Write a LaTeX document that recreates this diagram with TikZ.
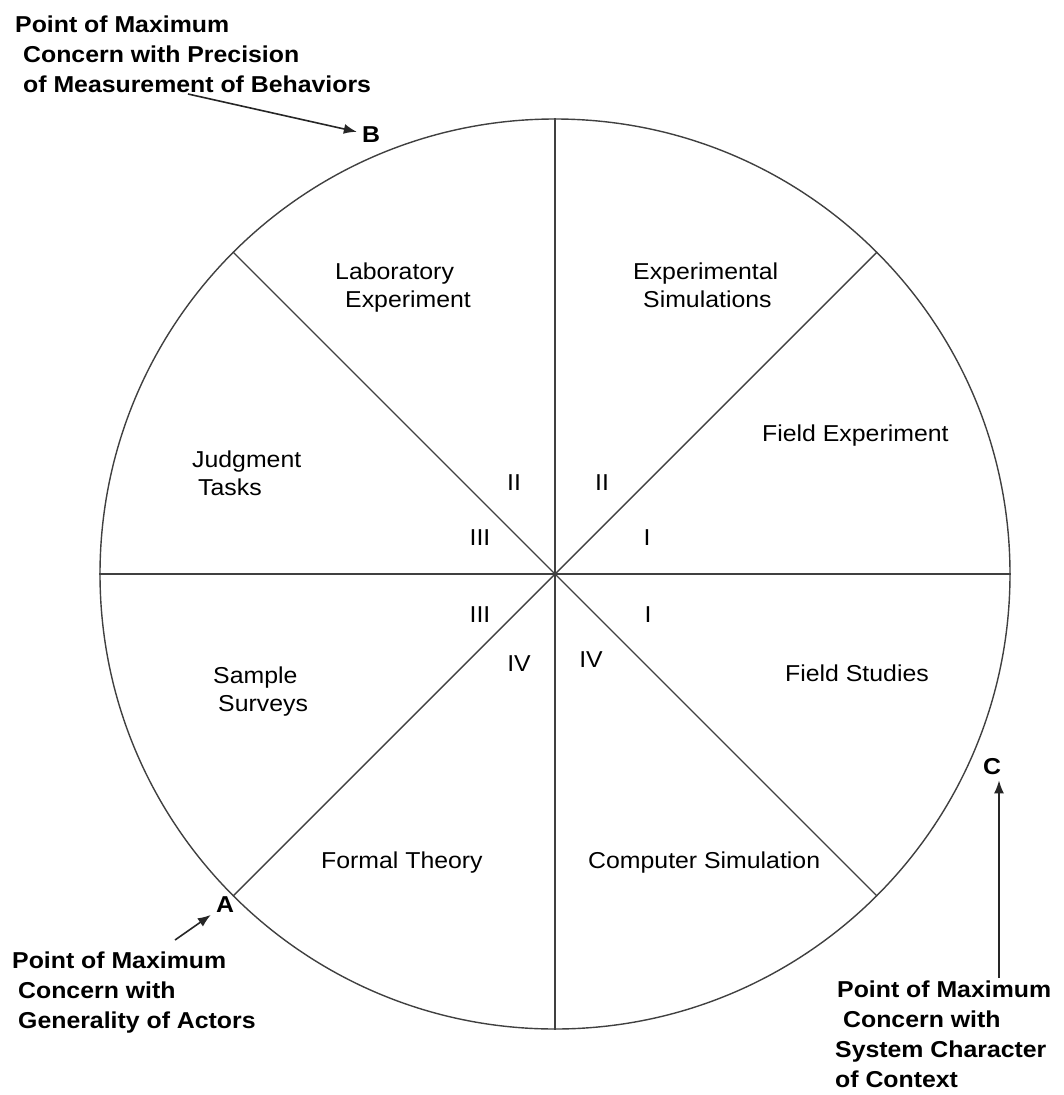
\documentclass[tikz,border=0pt]{standalone}
\usepackage{fontspec}
\setmainfont{Liberation Sans}[FakeStretch=1.08]
\usetikzlibrary{arrows.meta}

\begin{document}
\begin{tikzpicture}[x=1pt,y=-1pt,
  rim/.style={draw=black!75, line width=1.4pt},
  spoke/.style={draw=black!75, line width=1.4pt},
  sector/.style={font=\fontsize{23}{28}\selectfont, anchor=base west, align=left, inner sep=0pt},
  roman/.style={font=\fontsize{23}{28}\selectfont, inner sep=0pt},
  note/.style={font=\fontsize{23}{30}\selectfont\bfseries, anchor=base west, align=left, inner sep=0pt},
  corner/.style={font=\fontsize{23}{28}\selectfont\bfseries, inner sep=5pt},
  pointer/.style={draw=black!85, line width=1.6pt, -{Latex[length=13pt,width=10pt]}}]

\useasboundingbox (0,0) rectangle (1063,1095);

% the circle of research strategies and its eight spokes
\node[circle, rim, minimum size=910pt, inner sep=0pt] (wheel) at (555,574) {};
\coordinate (hub) at (555,574);
\foreach \a in {0,45,...,315} \draw[spoke] (hub) -- (wheel.\a);

% strategies, one per octant (multi-line nodes sit on their last baseline)
\node[sector] (lab)    at (335,307) {Laboratory\\\hspace*{10pt}Experiment};
\node[sector] (sim)    at (633,307) {Experimental\\\hspace*{10pt}Simulations};
\node[sector] (fexp)   at (762,441) {Field Experiment};
\node[sector] (judg)   at (192,495) {Judgment\\\hspace*{6pt}Tasks};
\node[sector] (surv)   at (213,711) {Sample\\\hspace*{5pt}Surveys};
\node[sector] (fstud)  at (785,681) {Field Studies};
\node[sector] (formal) at (321,868) {Formal Theory};
\node[sector] (csim)   at (588,868) {Computer Simulation};

% quadrant numerals around the hub
\node[roman] (q2a) at (514,483) {II};
\node[roman] (q2b) at (602,483) {II};
\node[roman] (q3a) at (480,538) {III};
\node[roman] (q1a) at (647,538) {I};
\node[roman] (q3b) at (480,615) {III};
\node[roman] (q1b) at (648,615) {I};
\node[roman] (q4a) at (519,664) {IV};
\node[roman] (q4b) at (591,660) {IV};

% points of maximum concern
\node[corner] (ptA) at (225,905) {A};
\node[corner] (ptB) at (371,135) {B};
\node[corner] (ptC) at (992,767) {C};

\node[note] (noteB) at (15,92) {Point of Maximum\\\hspace*{8pt}Concern with Precision\\\hspace*{8pt}of Measurement of Behaviors};
\node[note] (noteA) at (12,1028) {Point of Maximum\\\hspace*{6pt}Concern with\\\hspace*{6pt}Generality of Actors};
\node[note] (noteC) at (835,1087) {\hspace*{2pt}Point of Maximum\\\hspace*{8pt}Concern with\\System Character\\of Context};

\coordinate (tailB) at (188,94);
\coordinate (tailA) at (175,940);
\coordinate (tailC) at (999,978);
\draw[pointer] (tailB) -- (ptB);
\draw[pointer] (tailA) -- (ptA);
\draw[pointer] (tailC) -- (tailC |- ptC.south);
\end{tikzpicture}
\end{document}
